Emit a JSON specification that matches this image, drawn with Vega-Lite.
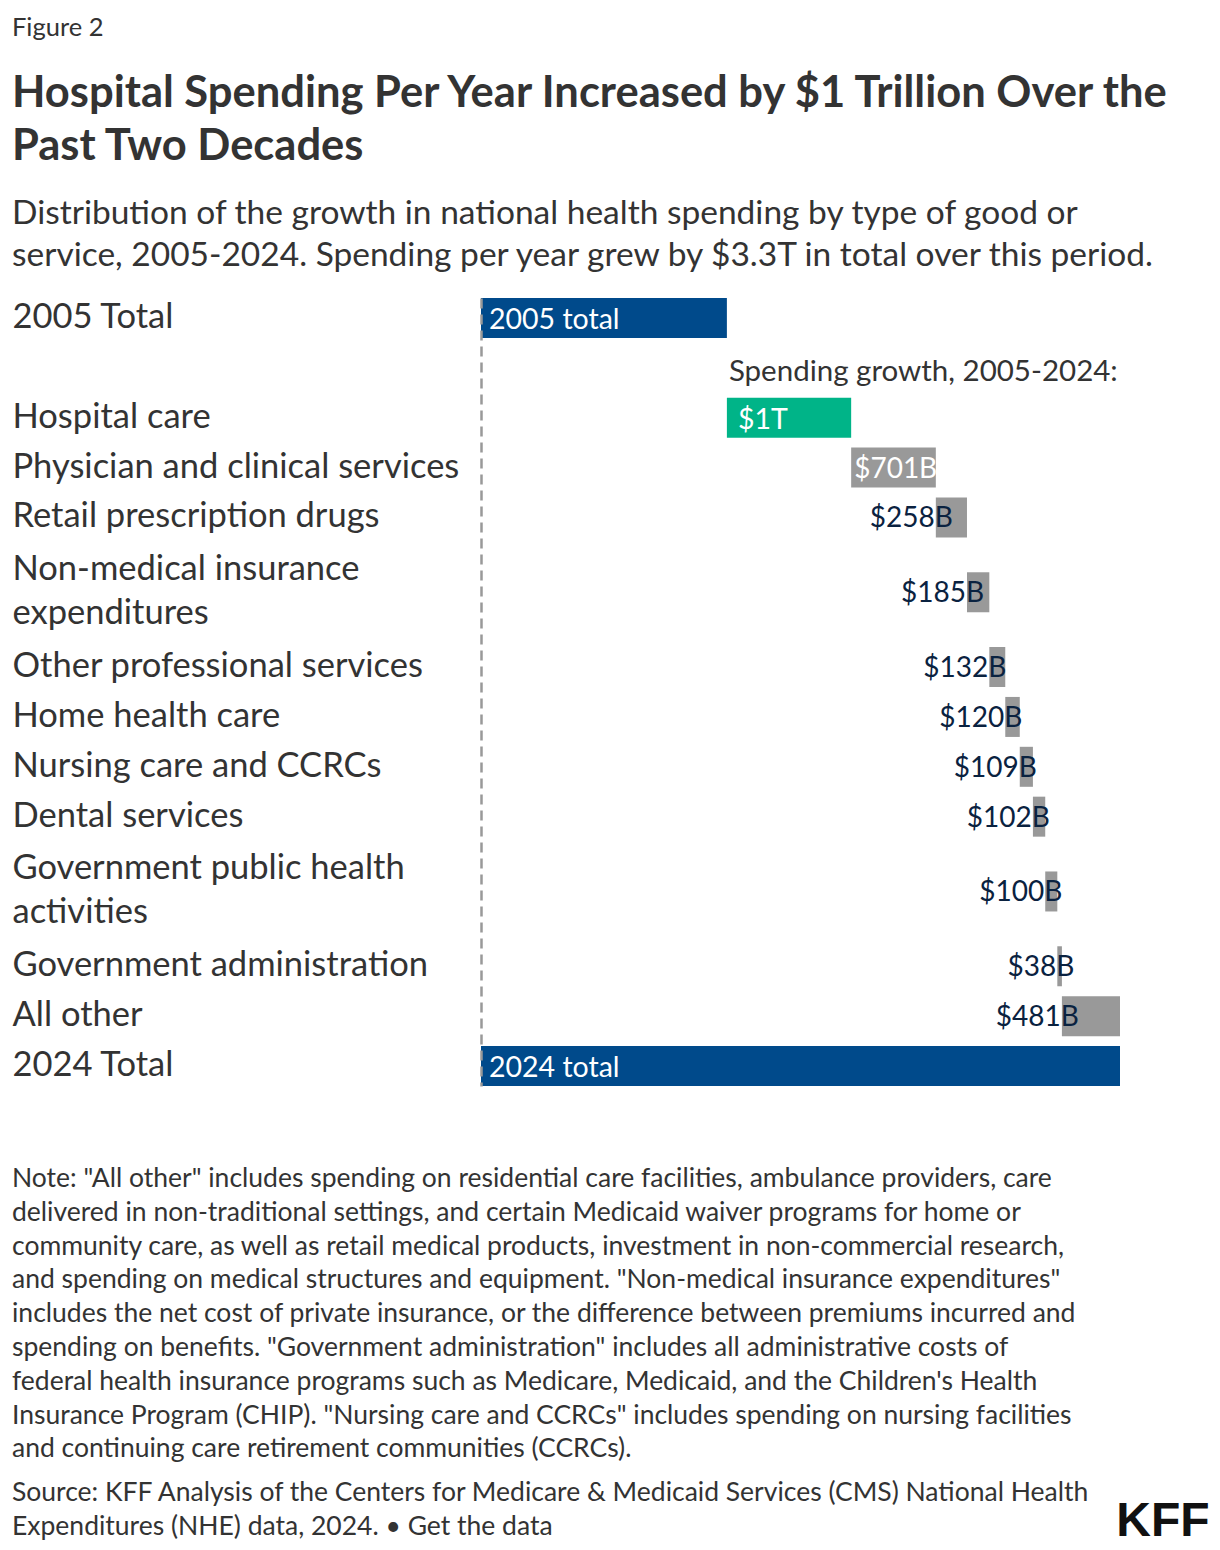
{
  "$schema": "https://vega.github.io/schema/vega-lite/v6.json",
  "padding": {"left": 12, "top": 16, "right": 10, "bottom": 10},
  "background": "white",
  "config": {
    "view": {"stroke": null},
    "font": "Lato",
    "concat": {"spacing": 0}
  },
  "title": {
    "text": "KFF",
    "orient": "bottom",
    "anchor": "end",
    "font": "Liberation Sans",
    "fontSize": 48,
    "fontWeight": "bold",
    "color": "#111111",
    "dy": -46,
    "dx": 36
  },
  "vconcat": [
    {
      "title": {
        "text": "Figure 2",
        "anchor": "start",
        "fontSize": 25.5,
        "fontWeight": "normal",
        "color": "#333333",
        "offset": 30
      },
      "vconcat": [
        {
          "title": {
            "text": [
              "Note: \"All other\" includes spending on residential care facilities, ambulance providers, care",
              "delivered in non-traditional settings, and certain Medicaid waiver programs for home or",
              "community care, as well as retail medical products, investment in non-commercial research,",
              "and spending on medical structures and equipment. \"Non-medical insurance expenditures\"",
              "includes the net cost of private insurance, or the difference between premiums incurred and",
              "spending on benefits. \"Government administration\" includes all administrative costs of",
              "federal health insurance programs such as Medicare, Medicaid, and the Children's Health",
              "Insurance Program (CHIP). \"Nursing care and CCRCs\" includes spending on nursing facilities",
              "and continuing care retirement communities (CCRCs)."
            ],
            "subtitle": [
              "Source: KFF Analysis of the Centers for Medicare & Medicaid Services (CMS) National Health",
              "Expenditures (NHE) data, 2024. • Get the data"
            ],
            "orient": "bottom",
            "anchor": "start",
            "fontSize": 26.5,
            "fontWeight": "normal",
            "lineHeight": 33.8,
            "color": "#333333",
            "subtitleFontSize": 26.5,
            "subtitleLineHeight": 33.8,
            "subtitleColor": "#333333",
            "subtitlePadding": 17,
            "offset": 80
          },
          "vconcat": [
            {
              "width": 639,
              "height": 788,
              "title": {
                "text": [
                  "Hospital Spending Per Year Increased by $1 Trillion Over the",
                  "Past Two Decades"
                ],
                "subtitle": [
                  "Distribution of the growth in national health spending by type of good or",
                  "service, 2005-2024. Spending per year grew by $3.3T in total over this period."
                ],
                "anchor": "start",
                "fontSize": 43.5,
                "fontWeight": "bold",
                "lineHeight": 53,
                "color": "#333333",
                "subtitleFontSize": 33.5,
                "subtitleLineHeight": 42,
                "subtitleColor": "#333333",
                "subtitlePadding": 29,
                "offset": 24
              },
              "data": {
                "values": [
                  {"item": "2005 Total", "start": 0, "end": 2036, "kind": "total", "label": "2005 total"},
                  {"item": "Hospital care", "start": 2036, "end": 3065, "kind": "hospital", "label": "$1T"},
                  {"item": "Physician and clinical services", "start": 3065, "end": 3766, "kind": "other", "label": "$701B"},
                  {"item": "Retail prescription drugs", "start": 3766, "end": 4024, "kind": "other", "label": "$258B"},
                  {"item": "Non-medical insurance expenditures", "start": 4024, "end": 4209, "kind": "other", "label": "$185B"},
                  {"item": "Other professional services", "start": 4209, "end": 4341, "kind": "other", "label": "$132B"},
                  {"item": "Home health care", "start": 4341, "end": 4461, "kind": "other", "label": "$120B"},
                  {"item": "Nursing care and CCRCs", "start": 4461, "end": 4570, "kind": "other", "label": "$109B"},
                  {"item": "Dental services", "start": 4570, "end": 4672, "kind": "other", "label": "$102B"},
                  {"item": "Government public health activities", "start": 4672, "end": 4772, "kind": "other", "label": "$100B"},
                  {"item": "Government administration", "start": 4772, "end": 4810, "kind": "other", "label": "$38B"},
                  {"item": "All other", "start": 4810, "end": 5291, "kind": "other", "label": "$481B"},
                  {"item": "2024 Total", "start": 0, "end": 5291, "kind": "total", "label": "2024 total"}
                ]
              },
              "layer": [
                {
                  "mark": {"type": "bar", "height": 40},
                  "encoding": {
                    "y": {
                      "field": "item",
                      "type": "nominal",
                      "sort": null,
                      "scale": {
                        "domain": [
                          "2005 Total", "_s1", "_note", "_s3", "Hospital care", "_s5",
                          "Physician and clinical services", "_s7", "Retail prescription drugs", "_s9", "_s10",
                          "Non-medical insurance expenditures", "_s12", "_s13", "Other professional services", "_s15",
                          "Home health care", "_s17", "Nursing care and CCRCs", "_s19", "Dental services", "_s21", "_s22",
                          "Government public health activities", "_s24", "_s25", "Government administration", "_s27",
                          "All other", "_s29", "2024 Total"
                        ],
                        "paddingInner": 0,
                        "paddingOuter": 0.302
                      },
                      "axis": {
                        "title": null,
                        "ticks": false,
                        "domain": true,
                        "domainColor": "#999999",
                        "domainDash": [10, 6],
                        "domainWidth": 2.5,
                        "labelAlign": "left",
                        "labelPadding": 469,
                        "labelFontSize": 34.5,
                        "labelColor": "#333333",
                        "labelLimit": 500,
                        "labelOverlap": false,
                        "labelBound": false,
                        "labelLineHeight": 44,
                        "labelOffset": {
                          "condition": {"test": "datum.value == 'Non-medical insurance expenditures' || datum.value == 'Government public health activities'", "value": -22},
                          "value": 0
                        },
                        "zindex": 1,
                        "values": [
                          "2005 Total", "Hospital care", "Physician and clinical services", "Retail prescription drugs",
                          "Non-medical insurance expenditures", "Other professional services", "Home health care",
                          "Nursing care and CCRCs", "Dental services", "Government public health activities",
                          "Government administration", "All other", "2024 Total"
                        ],
                        "labelExpr": "datum.value == 'Non-medical insurance expenditures' ? ['Non-medical insurance', 'expenditures'] : datum.value == 'Government public health activities' ? ['Government public health', 'activities'] : datum.value"
                      }
                    },
                    "x": {
                      "field": "start",
                      "type": "quantitative",
                      "scale": {"domain": [0, 5291], "nice": false, "zero": false},
                      "axis": null
                    },
                    "x2": {"field": "end"},
                    "color": {
                      "field": "kind",
                      "type": "nominal",
                      "scale": {"domain": ["total", "hospital", "other"], "range": ["#004A8B", "#00B488", "#999999"]},
                      "legend": null
                    }
                  }
                },
                {
                  "transform": [{"filter": "datum.kind == 'total'"}],
                  "mark": {"type": "text", "align": "left", "baseline": "middle", "dx": 8, "dy": 2, "fontSize": 28.5, "color": "white"},
                  "encoding": {
                    "y": {"field": "item", "type": "nominal"},
                    "x": {"field": "start", "type": "quantitative"},
                    "text": {"field": "label"}
                  }
                },
                {
                  "transform": [{"filter": "datum.kind == 'hospital'"}],
                  "mark": {"type": "text", "align": "left", "baseline": "middle", "dx": 11, "dy": 2, "fontSize": 28.5, "color": "white"},
                  "encoding": {
                    "y": {"field": "item", "type": "nominal"},
                    "x": {"field": "start", "type": "quantitative"},
                    "text": {"field": "label"}
                  }
                },
                {
                  "transform": [{"filter": "datum.kind == 'other' && datum.end - datum.start > 500"}],
                  "mark": {"type": "text", "align": "left", "baseline": "middle", "dx": 3, "dy": 2, "fontSize": 28, "color": "white"},
                  "encoding": {
                    "y": {"field": "item", "type": "nominal"},
                    "x": {"field": "start", "type": "quantitative"},
                    "text": {"field": "label"}
                  }
                },
                {
                  "transform": [{"filter": "datum.kind == 'other' && datum.end - datum.start <= 500"}],
                  "mark": {"type": "text", "align": "right", "baseline": "middle", "dx": 17, "dy": 2, "fontSize": 28, "color": "#0A2240"},
                  "encoding": {
                    "y": {"field": "item", "type": "nominal"},
                    "x": {"field": "start", "type": "quantitative"},
                    "text": {"field": "label"}
                  }
                },
                {
                  "data": {"values": [{"note": "Spending growth, 2005-2024:"}]},
                  "mark": {"type": "text", "align": "left", "baseline": "middle", "dx": 2, "dy": 4, "fontSize": 29.5, "color": "#333333"},
                  "encoding": {
                    "y": {"datum": "_note", "type": "nominal"},
                    "x": {"datum": 2036, "type": "quantitative"},
                    "text": {"field": "note"}
                  }
                }
              ]
            }
          ]
        }
      ]
    }
  ]
}
